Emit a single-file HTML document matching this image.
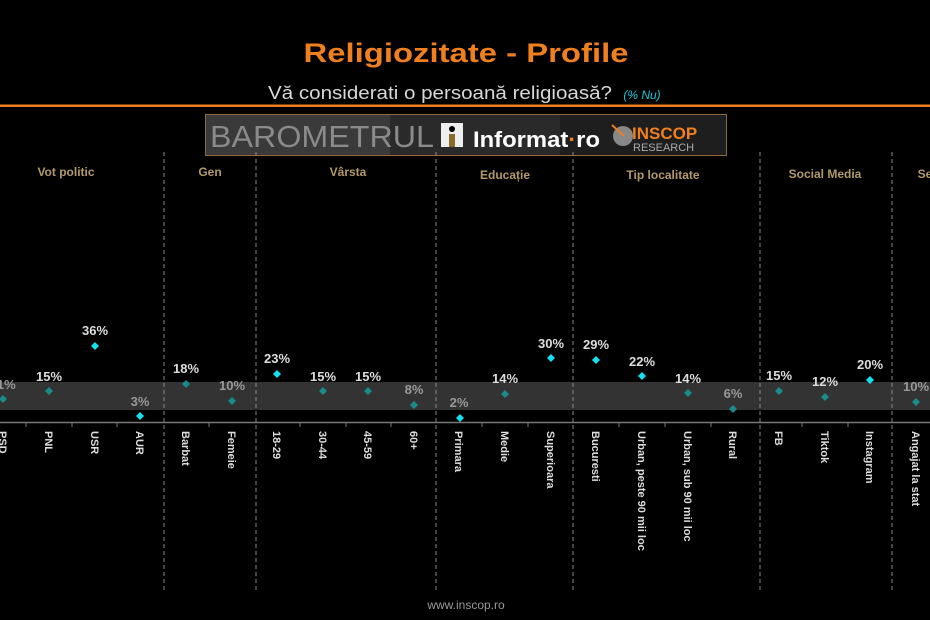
<!DOCTYPE html>
<html><head><meta charset="utf-8"><style>
html,body{margin:0;padding:0;background:#000;}
svg{display:block;}
</style></head><body>
<svg width="930" height="620" xmlns="http://www.w3.org/2000/svg" font-family="Liberation Sans, Arial, sans-serif">
<rect width="930" height="620" fill="#000"/>
<text x="466" y="62" text-anchor="middle" font-size="27" font-weight="bold" fill="#f07f1e" textLength="325" lengthAdjust="spacingAndGlyphs">Religiozitate - Profile</text>
<text x="268" y="99" font-size="18" fill="#d8d8d8" textLength="344" lengthAdjust="spacingAndGlyphs">Vă considerati o persoană religioasă?</text>
<text x="642" y="99" text-anchor="middle" font-size="12" font-style="italic" fill="#19c8d8">(% Nu)</text>
<rect x="0" y="104.5" width="930" height="2.5" fill="#f07f1e"/>
<!-- logo -->
<rect x="205.5" y="114.5" width="521" height="41" fill="#3a3a3a" stroke="#8a6a3a"/>
<rect x="390" y="115" width="336" height="40" fill="#2a2a2a"/>
<rect x="560" y="115" width="166" height="40" fill="#1e1e1e"/>
<text x="210" y="147" font-size="31" fill="#8a8a8a" textLength="224" lengthAdjust="spacingAndGlyphs">BAROMETRUL</text>
<rect x="441" y="123" width="22" height="24" fill="#eee"/>
<circle cx="452" cy="129" r="3" fill="#000"/>
<rect x="449" y="134" width="6" height="13" fill="#8a6a2a"/>
<text x="473" y="147" font-size="22" font-weight="bold" fill="#fff" textLength="127" lengthAdjust="spacingAndGlyphs">Informat<tspan fill="#f07f1e">·</tspan>ro</text>
<circle cx="623" cy="136" r="10" fill="#888"/>
<line x1="612" y1="125" x2="624" y2="136" stroke="#f07f1e" stroke-width="2"/>
<text x="632" y="139" font-size="17" font-weight="bold" fill="#f07f1e">INSCOP</text>
<text x="633" y="151" font-size="11" fill="#aaa">RESEARCH</text>
<!-- categories -->
<g font-size="12" font-weight="bold" fill="#b39a6a" text-anchor="middle">
<text x="66" y="176">Vot politic</text>
<text x="210" y="176">Gen</text>
<text x="348" y="176">Vârsta</text>
<text x="505" y="179">Educație</text>
<text x="663" y="179">Tip localitate</text>
<text x="825" y="178">Social Media</text>
<text x="925" y="178">Se</text>
</g>
<!-- band and axis -->
<rect x="0" y="382" width="930" height="28" fill="#333"/>
<line x1="0" y1="422.5" x2="930" y2="422.5" stroke="#777" stroke-width="1.5"/>
<g stroke="#777" stroke-width="1">
<line x1="26" y1="422" x2="26" y2="427"/><line x1="72" y1="422" x2="72" y2="427"/><line x1="117" y1="422" x2="117" y2="427"/>
<line x1="209" y1="422" x2="209" y2="427"/><line x1="300" y1="422" x2="300" y2="427"/><line x1="346" y1="422" x2="346" y2="427"/><line x1="391" y1="422" x2="391" y2="427"/>
<line x1="482" y1="422" x2="482" y2="427"/><line x1="528" y1="422" x2="528" y2="427"/><line x1="619" y1="422" x2="619" y2="427"/><line x1="665" y1="422" x2="665" y2="427"/><line x1="711" y1="422" x2="711" y2="427"/><line x1="802" y1="422" x2="802" y2="427"/><line x1="848" y1="422" x2="848" y2="427"/>
</g>
<g stroke="#888" stroke-width="1" stroke-dasharray="4,3">
<line x1="164" y1="152" x2="164" y2="590"/><line x1="256" y1="152" x2="256" y2="590"/><line x1="436" y1="152" x2="436" y2="590"/><line x1="573" y1="152" x2="573" y2="590"/><line x1="760" y1="152" x2="760" y2="590"/><line x1="892" y1="152" x2="892" y2="590"/>
</g>
<!-- points -->
<g font-size="13" font-weight="bold" text-anchor="middle">
<path d="M3 395l4 4-4 4-4-4z" fill="#1a8a8a"/><text x="3" y="389" fill="#999">11%</text>
<path d="M49 387l4 4-4 4-4-4z" fill="#1a8a8a"/><text x="49" y="381" fill="#ddd">15%</text>
<path d="M95 342l4 4-4 4-4-4z" fill="#12e0f0"/><text x="95" y="335" fill="#ddd">36%</text>
<path d="M140 412l4 4-4 4-4-4z" fill="#12e0f0"/><text x="140" y="406" fill="#999">3%</text>
<path d="M186 380l4 4-4 4-4-4z" fill="#1a8a8a"/><text x="186" y="373" fill="#ddd">18%</text>
<path d="M232 397l4 4-4 4-4-4z" fill="#1a8a8a"/><text x="232" y="390" fill="#999">10%</text>
<path d="M277 370l4 4-4 4-4-4z" fill="#12e0f0"/><text x="277" y="363" fill="#ddd">23%</text>
<path d="M323 387l4 4-4 4-4-4z" fill="#1a8a8a"/><text x="323" y="381" fill="#ddd">15%</text>
<path d="M368 387l4 4-4 4-4-4z" fill="#1a8a8a"/><text x="368" y="381" fill="#ddd">15%</text>
<path d="M414 401l4 4-4 4-4-4z" fill="#1a8a8a"/><text x="414" y="394" fill="#999">8%</text>
<path d="M460 414l4 4-4 4-4-4z" fill="#12e0f0"/><text x="459" y="407" fill="#999">2%</text>
<path d="M505 390l4 4-4 4-4-4z" fill="#1a8a8a"/><text x="505" y="383" fill="#ddd">14%</text>
<path d="M551 354l4 4-4 4-4-4z" fill="#12e0f0"/><text x="551" y="348" fill="#ddd">30%</text>
<path d="M596 356l4 4-4 4-4-4z" fill="#12e0f0"/><text x="596" y="349" fill="#ddd">29%</text>
<path d="M642 372l4 4-4 4-4-4z" fill="#12e0f0"/><text x="642" y="366" fill="#ddd">22%</text>
<path d="M688 389l4 4-4 4-4-4z" fill="#1a8a8a"/><text x="688" y="383" fill="#ddd">14%</text>
<path d="M733 405l4 4-4 4-4-4z" fill="#1a8a8a"/><text x="733" y="398" fill="#999">6%</text>
<path d="M779 387l4 4-4 4-4-4z" fill="#1a8a8a"/><text x="779" y="380" fill="#ddd">15%</text>
<path d="M825 393l4 4-4 4-4-4z" fill="#1a8a8a"/><text x="825" y="386" fill="#ddd">12%</text>
<path d="M870 376l4 4-4 4-4-4z" fill="#12e0f0"/><text x="870" y="369" fill="#ddd">20%</text>
<path d="M916 398l4 4-4 4-4-4z" fill="#1a8a8a"/><text x="916" y="391" fill="#999">10%</text>
</g>
<!-- category labels rotated -->
<g font-size="11" font-weight="bold" fill="#ddd">
<text transform="translate(-1,431) rotate(90)">PSD</text>
<text transform="translate(45,431) rotate(90)">PNL</text>
<text transform="translate(91,431) rotate(90)">USR</text>
<text transform="translate(136,431) rotate(90)">AUR</text>
<text transform="translate(182,431) rotate(90)">Barbat</text>
<text transform="translate(228,431) rotate(90)">Femeie</text>
<text transform="translate(273,431) rotate(90)">18-29</text>
<text transform="translate(319,431) rotate(90)">30-44</text>
<text transform="translate(364,431) rotate(90)">45-59</text>
<text transform="translate(410,431) rotate(90)">60+</text>
<text transform="translate(455,431) rotate(90)">Primara</text>
<text transform="translate(501,431) rotate(90)">Medie</text>
<text transform="translate(547,431) rotate(90)">Superioara</text>
<text transform="translate(592,431) rotate(90)">Bucuresti</text>
<text transform="translate(638,431) rotate(90)">Urban, peste 90 mii loc</text>
<text transform="translate(684,431) rotate(90)">Urban, sub 90 mii loc</text>
<text transform="translate(729,431) rotate(90)">Rural</text>
<text transform="translate(775,431) rotate(90)">FB</text>
<text transform="translate(821,431) rotate(90)">Tiktok</text>
<text transform="translate(866,431) rotate(90)">Instagram</text>
<text transform="translate(912,431) rotate(90)">Angajat la stat</text>
</g>
<text x="466" y="609" text-anchor="middle" font-size="12" fill="#999">www.inscop.ro</text>
</svg>
</body></html>
